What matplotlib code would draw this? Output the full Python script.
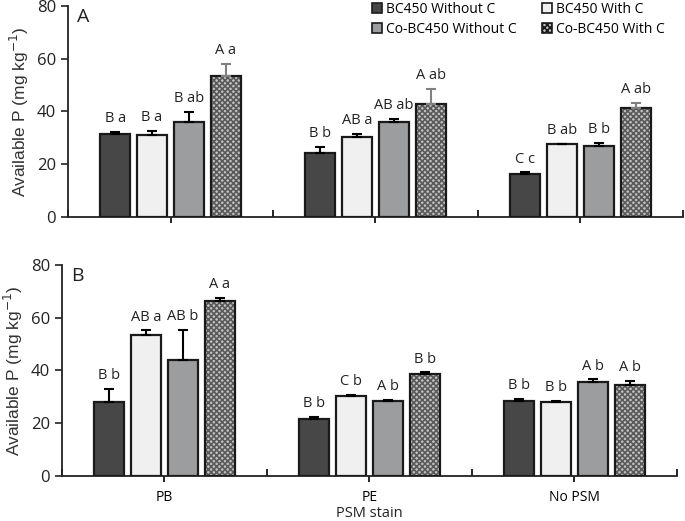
"""
Available P by PSM strain, biochar and C treatments (two panels)
"""

import numpy as np
import matplotlib.pyplot as plt

# ---------------------------------------------------------------------------- #
# Data
# ---------------------------------------------------------------------------- #

groups = ['PB', 'PE', 'No PSM']
treatments = ['BC450 Without C', 'BC450 With C', 'Co-BC450 Without C', 'Co-BC450 With C']

# panel A: rows = treatments, columns = groups
means_a = [[31.5, 24.2, 16.4],
           [31.2, 30.5, 27.5],
           [36.2, 36.2, 26.9],
           [53.6, 42.9, 41.4]]
errs_a = [[0.9, 2.5, 0.5],
          [1.5, 1.0, 0.2],
          [3.6, 1.1, 1.2],
          [4.4, 5.7, 1.8]]
letters_a = [['B a', 'B b', 'C c'],
             ['B a', 'AB a', 'B ab'],
             ['B ab', 'AB ab', 'B b'],
             ['A a', 'A ab', 'A ab']]

# panel B
means_b = [[28.0, 21.6, 28.6],
           [53.3, 30.2, 28.1],
           [44.1, 28.3, 35.5],
           [66.4, 38.6, 34.4]]
errs_b = [[5.1, 0.8, 0.7],
          [1.9, 0.6, 0.5],
          [11.4, 0.5, 1.1],
          [1.0, 0.7, 1.5]]
letters_b = [['B b', 'B b', 'B b'],
             ['AB a', 'C b', 'B b'],
             ['AB b', 'A b', 'A b'],
             ['A a', 'B b', 'A b']]

# ---------------------------------------------------------------------------- #
# Style
# ---------------------------------------------------------------------------- #

plt.rcParams['font.family'] = ['Open Sans', 'DejaVu Sans']
plt.rcParams['hatch.linewidth'] = 1.2

face_colours = ['#474747', '#f0f0f0', '#9b9d9f', '#c4c4c4']
hatches = [None, None, None, 'xxxxxx']
err_colours_a = ['black', 'black', 'black', '#808080']
err_colours_b = ['black', 'black', 'black', 'black']

width = 0.145
offsets = np.array([-1.5, -0.5, 0.5, 1.5]) * 0.18

fig = plt.figure(figsize=(6.85, 5.21), dpi=100)
ax_a = fig.add_axes([0.0993, 0.5835, 0.8977, 0.405])
ax_b = fig.add_axes([0.0905, 0.0864, 0.8975, 0.405])


def draw_panel(ax, means, errs, letters, err_colours, panel):
    x = np.arange(len(groups))
    for i in range(len(treatments)):
        xs = x + offsets[i]
        if hatches[i]:
            ax.bar(xs, means[i], width, color=face_colours[i], hatch=hatches[i],
                   edgecolor='#5a5a5a', linewidth=0, zorder=2)
            ax.bar(xs, means[i], width, fill=False, edgecolor='#1a1a1a',
                   linewidth=1.6, zorder=3)
        else:
            ax.bar(xs, means[i], width, color=face_colours[i], edgecolor='#1a1a1a',
                   linewidth=1.6, zorder=3)
        ax.errorbar(xs, means[i], yerr=[np.zeros(len(xs)), errs[i]], fmt='none',
                    ecolor=err_colours[i], elinewidth=1.5, capsize=3.5, capthick=1.5,
                    zorder=4)
        for k in range(len(groups)):
            ax.text(xs[k], means[i][k] + errs[i][k] + 2.2, letters[i][k],
                    ha='center', va='bottom', fontsize=10.5, color='#222222')

    ax.set_xlim(-0.5, 2.5)
    ax.set_ylim(0, 80)
    ax.set_yticks([0, 20, 40, 60, 80])
    ax.set_xticks(x)
    ax.set_xticks([-0.5, 0.5, 1.5, 2.5], minor=True)
    ax.tick_params(axis='x', which='major', direction='out', length=4, width=1.2)
    ax.tick_params(axis='x', which='minor', direction='in', length=5, width=1.2)
    ax.tick_params(axis='y', direction='out', length=5, width=1.2, labelsize=12,
                   colors='#222222')
    for side in ['top', 'right']:
        ax.spines[side].set_visible(False)
    for side in ['left', 'bottom']:
        ax.spines[side].set_linewidth(1.3)
        ax.spines[side].set_color('#222222')
    ax.set_ylabel('Available P (mg kg$^{-1}$)', fontsize=12.5,
                  family=['Liberation Sans', 'DejaVu Sans'], color='#333333')
    ax.text(0.015, 0.99, panel, transform=ax.transAxes, ha='left', va='top',
            fontsize=14, color='#222222')


draw_panel(ax_a, means_a, errs_a, letters_a, err_colours_a, 'A')
draw_panel(ax_b, means_b, errs_b, letters_b, err_colours_b, 'B')

ax_a.set_xticklabels([])
ax_b.set_xticklabels(groups, fontsize=10)
ax_b.tick_params(axis='x', which='major', pad=6)
ax_b.set_xlabel('PSM stain', fontsize=10.5, color='#222222', va='top')
ax_b.xaxis.set_label_coords(0.5, -0.14)

# Legend, row-wise order: BC450 pair on top, Co-BC450 pair below
handles = []
for i in range(len(treatments)):
    h = plt.Rectangle((0, 0), 1, 1, facecolor=face_colours[i], edgecolor='#1a1a1a',
                      hatch=hatches[i], linewidth=1.2)
    handles.append(h)
order = [0, 2, 1, 3]
leg = ax_a.legend([handles[i] for i in order], [treatments[i] for i in order],
                  ncol=2, loc='upper right', bbox_to_anchor=(0.98, 1.045),
                  frameon=False, fontsize=10,
                  handlelength=0.75, handleheight=0.75, handletextpad=0.3,
                  columnspacing=1.8, labelspacing=0.35, borderaxespad=0)

fig.savefig('out.png', dpi=100)
plt.close()
